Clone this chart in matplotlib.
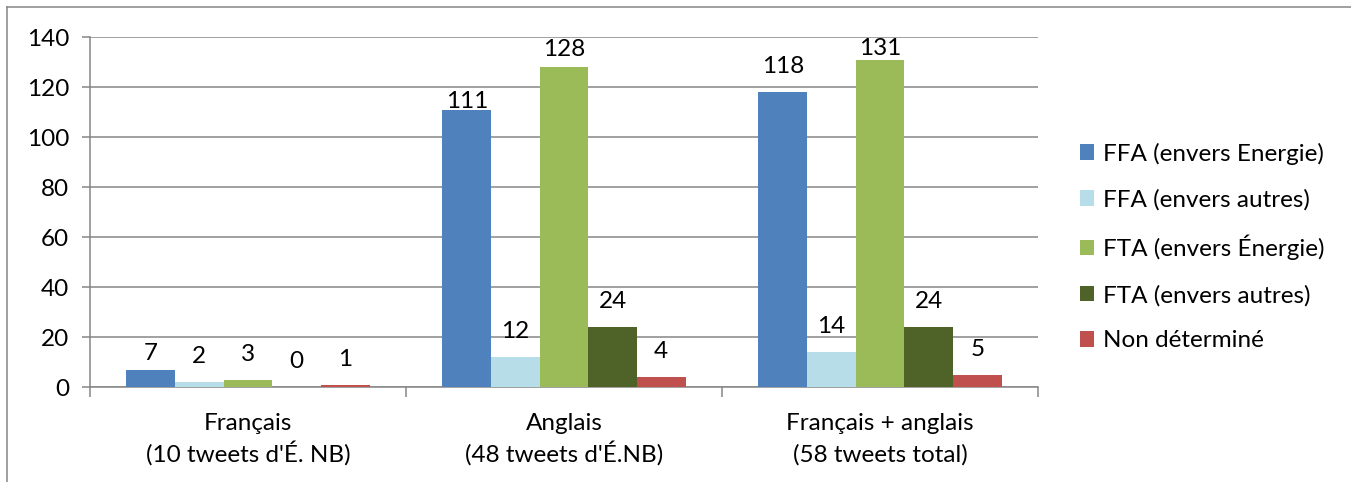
import matplotlib.pyplot as plt
from matplotlib.lines import Line2D
from matplotlib.ticker import FixedLocator
import numpy as np

plt.rcParams['font.family'] = ['Lato', 'DejaVu Sans']

# données
categories = ["Français\n(10 tweets d'É. NB)",
              "Anglais\n(48 tweets d'É.NB)",
              "Français + anglais\n(58 tweets total)"]
series = ['FFA (envers Energie)', 'FFA (envers autres)', 'FTA (envers Énergie)',
          'FTA (envers autres)', 'Non déterminé']
ffa_energie = [7, 111, 118]
ffa_autres = [2, 12, 14]
fta_energie = [3, 128, 131]
fta_autres = [0, 24, 24]
non_determine = [1, 4, 5]
values = [ffa_energie, ffa_autres, fta_energie, fta_autres, non_determine]
colors = ['#4F81BD', '#B7DEE8', '#9BBB59', '#4F6228', '#C0504D']

# écart étiquette / barre (points), quelques étiquettes déplacées comme dans Excel
gap = 13.5
gap_special = {(0, 0): 7, (0, 1): 0.8, (2, 1): 8, (2, 2): 3}

FS = 17.5
fig = plt.figure(figsize=(13.51, 4.82), dpi=100)
ax = fig.add_axes([90 / 1351, 1 - 387 / 482, 948 / 1351, 350 / 482])

n = len(series)
bw = 1 / 6.5
x = np.arange(len(categories))
for i, (name, vals, c) in enumerate(zip(series, values, colors)):
    pos = x + (i - (n - 1) / 2) * bw
    ax.bar(pos, vals, bw, color=c, label=name, zorder=3)
    for j, (p, v) in enumerate(zip(pos, vals)):
        ax.annotate(str(v), (p, v), xytext=(0, gap_special.get((i, j), gap)),
                    textcoords='offset points', ha='center', va='baseline',
                    fontsize=FS, color='black')

ax.set_xlim(-0.5, 2.5)
ax.set_ylim(0, 140)
ax.set_yticks(range(0, 141, 20))
ax.yaxis.grid(True, color='#868686', lw=1.1, zorder=0)
ax.set_axisbelow(True)

# étiquettes de catégories sur deux lignes, interligne fixe
ax.set_xticks(x)
ax.set_xticklabels([])
for xi, cat in zip(x, categories):
    for k, line in enumerate(cat.split('\n')):
        ax.annotate(line, (xi, 0), xycoords=('data', 'axes fraction'),
                    xytext=(0, -31 - 23 * k), textcoords='offset points',
                    ha='center', va='baseline', fontsize=FS)
ax.xaxis.set_minor_locator(FixedLocator([-0.5, 0.5, 1.5, 2.5]))
ax.tick_params(axis='x', which='major', length=0)
ax.tick_params(axis='x', which='minor', length=7, width=1.1, color='#868686')
ax.tick_params(axis='y', length=6, width=1.1, color='#868686', labelsize=FS, pad=9)

for s in ['top', 'right']:
    ax.spines[s].set_visible(False)
for s in ['left', 'bottom']:
    ax.spines[s].set_color('#868686')
    ax.spines[s].set_linewidth(1.1)

leg = fig.legend(loc='center left', bbox_to_anchor=(1058 / 1351, 1 - 247 / 482),
                 frameon=False, fontsize=FS, handlelength=0.6, handleheight=0.6,
                 handletextpad=0.35, labelspacing=1.0)

# cadre du graphique
fig.add_artist(Line2D([7 / 1351, 7 / 1351], [0, 1 - 7 / 482], color='#868686', lw=1.1))
fig.add_artist(Line2D([7 / 1351, 1], [1 - 7 / 482, 1 - 7 / 482], color='#868686', lw=1.1))

fig.savefig('out.png', dpi=100)
